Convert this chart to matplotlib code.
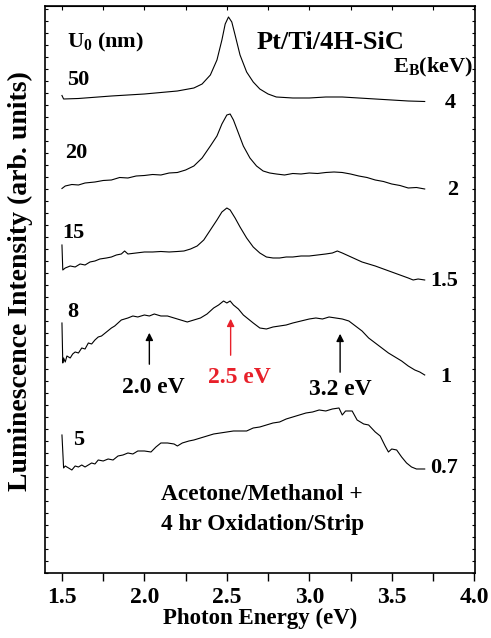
import matplotlib
matplotlib.use("Agg")
import matplotlib.pyplot as plt
from matplotlib.ticker import MultipleLocator, NullFormatter

plt.rcParams["font.family"] = ["Liberation Serif", "DejaVu Serif"]
plt.rcParams["font.weight"] = "bold"
plt.rcParams["mathtext.fontset"] = "custom"
plt.rcParams["mathtext.rm"] = "Liberation Serif:bold"
plt.rcParams["mathtext.it"] = "Liberation Serif:bold"
plt.rcParams["mathtext.bf"] = "Liberation Serif:bold"

# ---- spectra (photon energy in eV, stacked intensity in arb. units) ----
e_50 = [1.50, 1.51, 1.60, 1.80, 2.00, 2.20, 2.30, 2.35, 2.40, 2.44, 2.47, 2.49, 2.51, 2.53,
        2.55, 2.58, 2.62, 2.66, 2.70, 2.75, 2.80, 2.90, 3.00, 3.10, 3.20, 3.30, 3.40, 3.50,
        3.60, 3.70]
i_50 = [477.5, 474, 474.5, 477, 479, 482, 485, 489, 498, 513, 533, 549, 556, 551,
        538, 518, 501, 491, 484, 479, 476, 475, 475, 476, 476, 475, 474, 473,
        472, 471.5]

e_20 = [1.50, 1.52, 1.56, 1.60, 1.64, 1.70, 1.75, 1.80, 1.85, 1.90, 1.95, 2.00, 2.05, 2.10,
        2.15, 2.20, 2.25, 2.30, 2.35, 2.40, 2.44, 2.47, 2.50, 2.52, 2.54, 2.57, 2.60, 2.64,
        2.68, 2.72, 2.76, 2.80, 2.85, 2.90, 2.95, 3.00, 3.05, 3.10, 3.15, 3.20, 3.25, 3.30,
        3.35, 3.40, 3.45, 3.50, 3.55, 3.60, 3.65, 3.70]
i_20 = [384.5, 387, 388.5, 388, 390, 391, 392.5, 393, 395.5, 395, 397, 397.5, 398.5, 398,
        400, 400.5, 403, 407, 415, 427, 437, 449, 458, 459, 453, 440, 427, 415,
        407, 402, 400, 399, 398, 399.5, 399, 400, 399.5, 400.5, 401, 400.5, 399, 397,
        395.5, 393, 391.5, 389, 387.5, 385, 385.5, 384]

e_15 = [1.500, 1.505, 1.52, 1.55, 1.58, 1.61, 1.64, 1.67, 1.70, 1.73, 1.77, 1.80, 1.83,
        1.86, 1.88, 1.90, 1.95, 2.00, 2.05, 2.10, 2.15, 2.20, 2.24, 2.28, 2.32, 2.36, 2.40,
        2.44, 2.47, 2.50, 2.52, 2.55, 2.58, 2.62, 2.66, 2.70, 2.74, 2.78, 2.82, 2.86, 2.90,
        2.95, 3.00, 3.05, 3.10, 3.14, 3.17, 3.20, 3.24, 3.28, 3.32, 3.36, 3.40, 3.45, 3.50,
        3.55, 3.60, 3.63, 3.66, 3.70]
i_15 = [328, 303, 305, 307, 306, 309, 308, 311, 312, 314, 315, 316, 318,
        319, 322, 319, 320, 321, 321, 321.5, 321, 321.5, 322, 324, 327, 333, 343,
        353, 361, 365, 363, 355, 346, 335, 326, 320, 316, 315, 315, 316, 316,
        317, 317, 318, 319, 320, 322, 320, 317, 314, 311, 309, 307, 304, 301,
        298, 295, 293, 294, 293]

e_8 = [1.500, 1.505, 1.51, 1.52, 1.53, 1.55, 1.565, 1.58, 1.60, 1.62, 1.64, 1.66, 1.68,
       1.70, 1.72, 1.74, 1.77, 1.80, 1.82, 1.84, 1.86, 1.88, 1.90, 1.93, 1.96, 2.00, 2.03,
       2.06, 2.10, 2.14, 2.18, 2.22, 2.26, 2.30, 2.34, 2.38, 2.42, 2.45, 2.48, 2.50, 2.52,
       2.54, 2.57, 2.60, 2.63, 2.66, 2.70, 2.74, 2.78, 2.82, 2.86, 2.90, 2.95, 3.00, 3.04,
       3.08, 3.12, 3.16, 3.20, 3.24, 3.28, 3.32, 3.36, 3.40, 3.44, 3.48, 3.52, 3.56, 3.60,
       3.64, 3.67, 3.70]
i_8 = [250, 210, 215, 211, 217, 215, 219, 221, 220, 225, 224, 230, 229,
       233, 236, 237, 241, 245, 247, 250, 253, 254, 255, 257, 256, 258, 257,
       259, 257, 257, 255, 253, 251, 253, 255, 259, 265, 268, 272, 270, 272,
       268, 264, 258, 254, 250, 245, 244, 246, 247, 248, 250, 252, 254, 255,
       254, 256, 255, 254, 252, 247, 242, 235, 230, 225, 220, 216, 212, 207,
       203, 201, 198]

e_5 = [1.50, 1.51, 1.52, 1.54, 1.56, 1.58, 1.60, 1.62, 1.64, 1.66, 1.68, 1.70, 1.72, 1.75,
       1.78, 1.81, 1.84, 1.87, 1.90, 1.93, 1.96, 2.00, 2.04, 2.07, 2.10, 2.14, 2.18, 2.20,
       2.23, 2.27, 2.30, 2.34, 2.38, 2.42, 2.46, 2.50, 2.54, 2.58, 2.62, 2.66, 2.70, 2.74,
       2.78, 2.82, 2.86, 2.90, 2.94, 2.98, 3.02, 3.06, 3.10, 3.14, 3.18, 3.20, 3.22, 3.26,
       3.29, 3.33, 3.36, 3.40, 3.43, 3.46, 3.48, 3.50, 3.53, 3.56, 3.59, 3.62, 3.65, 3.70]
i_5 = [138, 105, 107, 105, 103, 107, 106, 108, 106, 108, 110, 109, 113, 112,
       114, 113, 117, 118, 120, 119, 122, 122, 121, 126, 130, 130, 129, 127,
       130, 132, 133, 135, 137, 139, 140, 141, 142, 142, 142, 145, 146, 148,
       150, 151, 154, 156, 158, 160, 161, 163, 162, 164, 165, 158, 162, 162,
       153, 149, 148, 141, 137, 127, 121, 124, 123, 116, 110, 106, 104, 104]

thickness = ["50", "20", "15", "8", "5"]
beam_kev = ["4", "2", "1.5", "1", "0.7"]

# label anchors (energy, intensity)
thick_pos = [(1.53, 493), (1.518, 420), (1.50, 340), (1.53, 261), (1.567, 133)]
beam_pos = [(3.824, 470), (3.836, 383), (3.733, 292), (3.794, 196), (3.733, 105)]

# peak markers on the 8 nm spectrum
peak_e = [2.03, 2.523, 3.187]
peak_tip = [243, 257, 242]
peak_tail = [206, 215, 198]
peak_text = ["2.0 eV", "2.5 eV", "3.2 eV"]
peak_text_e = [2.054, 2.576, 3.187]
peak_text_i = [185, 195, 183]
peak_color = ["black", "#e8202a", "black"]

fig = plt.figure(figsize=(4.91, 6.38), dpi=100)
ax = fig.add_axes([0.0916, 0.1019, 0.8758, 0.8887])

for e, i in [(e_50, i_50), (e_20, i_20), (e_15, i_15), (e_8, i_8), (e_5, i_5)]:
    ax.plot(e, i, color="black", lw=0.8)

for lab, (x, y) in zip(thickness, thick_pos):
    ax.text(x, y, lab, fontsize=16, fontweight="bold", ha="left", va="center")
for lab, (x, y) in zip(beam_kev, beam_pos):
    ax.text(x, y, lab, fontsize=16, fontweight="bold", ha="left", va="center")

for x, tip, tail, txt, tx, ty, c in zip(peak_e, peak_tip, peak_tail, peak_text,
                                        peak_text_e, peak_text_i, peak_color):
    ax.annotate("", xy=(x, tip), xytext=(x, tail),
                arrowprops=dict(arrowstyle="-|>", color=c, lw=1.0, mutation_scale=11))
    ax.text(tx, ty, txt, color=c, fontsize=17, fontweight="bold", ha="center", va="center")

ax.text(1.53, 531, r"U$_0$ (nm)", fontsize=16, fontweight="bold", ha="left", va="center")
ax.text(3.126, 530, "Pt/Ti/4H-SiC", fontsize=19, fontweight="bold", ha="center", va="center")
ax.text(3.994, 506, r"E$_\mathrm{B}$(keV)", fontsize=16, fontweight="bold", ha="right", va="center")
ax.text(2.714, 78, "Acetone/Methanol +", fontsize=16.8, fontweight="bold", ha="center", va="center")
ax.text(2.714, 48, "4 hr Oxidation/Strip", fontsize=16.8, fontweight="bold", ha="center", va="center")

ax.set_xlim(1.397, 4.005)
ax.set_ylim(0, 567)
ax.xaxis.set_major_locator(MultipleLocator(0.5))
ax.xaxis.set_minor_locator(MultipleLocator(0.25))
ax.xaxis.set_major_formatter(plt.FormatStrFormatter("%.1f"))
ax.yaxis.set_major_locator(MultipleLocator(12))
ax.yaxis.set_major_formatter(NullFormatter())
ax.tick_params(axis="x", which="both", direction="out", length=6, width=1,
               labelsize=17, top=False, pad=4)
ax.tick_params(axis="y", which="major", direction="in", length=2.5, width=0.8,
               left=True, right=True)
sec = ax.secondary_xaxis("top")
sec.xaxis.set_major_locator(MultipleLocator(0.25))
sec.tick_params(direction="in", length=3, labeltop=False)
for lbl in ax.get_xticklabels():
    lbl.set_fontweight("bold")
for s in ax.spines.values():
    s.set_linewidth(1.2)

ax.set_xlabel("Photon Energy (eV)", fontsize=16.5, fontweight="bold", labelpad=0)
ax.set_ylabel("Luminescence Intensity (arb. units)", fontsize=20, fontweight="bold")
ax.yaxis.set_label_coords(-0.028, 0.515)

fig.savefig("out.png", dpi=100)
